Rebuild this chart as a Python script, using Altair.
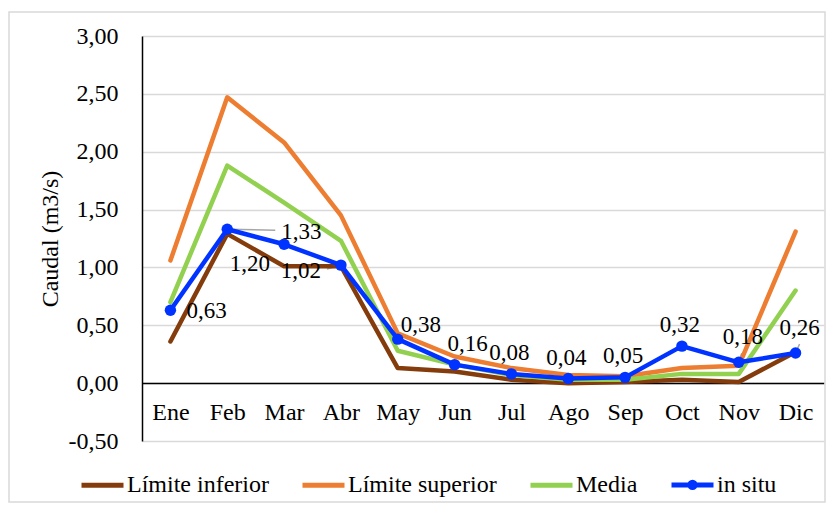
import altair as alt
import pandas as pd

months = ["Ene", "Feb", "Mar", "Abr", "May", "Jun", "Jul", "Ago", "Sep", "Oct", "Nov", "Dic"]
lim_inf = [0.36, 1.29, 1.01, 1.01, 0.13, 0.10, 0.03, 0.00, 0.01, 0.03, 0.01, 0.27]
lim_sup = [1.06, 2.47, 2.08, 1.45, 0.43, 0.23, 0.13, 0.07, 0.06, 0.13, 0.15, 1.31]
media = [0.70, 1.88, 1.56, 1.23, 0.28, 0.16, 0.07, 0.03, 0.03, 0.08, 0.08, 0.80]
in_situ = [0.63, 1.33, 1.20, 1.02, 0.38, 0.16, 0.08, 0.04, 0.05, 0.32, 0.18, 0.26]
series_names = ["Límite inferior", "Límite superior", "Media", "in situ"]
colors = ["#843C0C", "#ED7D31", "#92D050", "#0033FF"]
y_ticks = [-0.5, 0.0, 0.5, 1.0, 1.5, 2.0, 2.5, 3.0]

FONT = "'Liberation Serif', 'Times New Roman', Times, serif"

rows = []
for name, vals in zip(series_names, [lim_inf, lim_sup, media, in_situ]):
    for m, v in zip(months, vals):
        rows.append({"month": m, "serie": name, "value": v})
df = pd.DataFrame(rows)
df_in = pd.DataFrame({"month": months, "value": in_situ})

x_enc = alt.X(
    "month:N",
    sort=months,
    scale=alt.Scale(type="point", padding=0.5),
    axis=alt.Axis(
        title=None, labelAngle=0, ticks=False, grid=False,
        domainColor="black", domainWidth=1.5, offset=-58,
        labelPadding=17, labelFont=FONT, labelFontSize=24, labelColor="black",
    ),
)
y_enc = alt.Y(
    "value:Q",
    scale=alt.Scale(domain=[-0.5, 3.0], nice=False, zero=False),
    axis=alt.Axis(
        values=y_ticks, title="Caudal (m3/s)", ticks=False, grid=True,
        gridColor="#D9D9D9", gridWidth=1.5, domainColor="black", domainWidth=1.5,
        labelExpr="(datum.value < 0 ? '-' : '') + replace(format(abs(datum.value), '.2f'), '.', ',')",
        labelPadding=24, labelFont=FONT, labelFontSize=24, labelColor="black",
        titleFont=FONT, titleFontSize=24, titleFontWeight="normal", titleColor="black",
        titlePadding=6,
    ),
)

insitu_path = "M-1,0H1M0.13,0A0.13,0.13,0,1,1,-0.13,0A0.13,0.13,0,1,1,0.13,0"

lines = alt.Chart(df).mark_line(strokeWidth=4.5, strokeJoin="round", strokeCap="round").encode(
    x=x_enc,
    y=y_enc,
    color=alt.Color(
        "serie:N",
        scale=alt.Scale(domain=series_names, range=colors),
        legend=alt.Legend(
            title=None, orient="none", legendX=-63, legendY=425, direction="horizontal",
            columns=4, padding=0,
            symbolType=alt.ExprRef(expr="datum.value === 'in situ' ? '" + insitu_path + "' : 'stroke'"),
            symbolSize=1764, symbolStrokeWidth=5,
            labelFont=FONT, labelFontSize=24, labelColor="black", labelOffset=1,
            columnPadding=23, labelLimit=0,
        ),
    ),
)

base_in = alt.Chart(df_in).transform_calculate(
    label="replace(format(datum.value, '.2f'), '.', ',')"
)

points = base_in.mark_circle(size=130, color="#0033FF", opacity=1).encode(x=x_enc, y=y_enc)


def leader(month, dxo, dyo):
    return base_in.transform_filter(alt.datum.month == month).mark_rule(
        color="#A6A6A6", strokeWidth=1.5, x2Offset=dxo, y2Offset=dyo
    ).encode(x=x_enc, x2="month", y=y_enc, y2="value")


def lbl(sel, dx, dy, align):
    return base_in.transform_filter(
        alt.FieldOneOfPredicate(field="month", oneOf=sel)
    ).mark_text(
        dx=dx, dy=dy, align=align, baseline="middle", font=FONT, fontSize=23, color="black"
    ).encode(x=x_enc, y=y_enc, text="label:N")


frame = alt.Chart(pd.DataFrame({"a": [0]})).mark_rect(
    filled=False, stroke="#D9D9D9", strokeWidth=1.5
).encode(x=alt.value(-133), x2=alt.value(683), y=alt.value(-24), y2=alt.value(466))

leaders = [leader("Feb", 48, 1), leader("Abr", -14, 4), leader("Nov", 3, -9), leader("Dic", 4, -9)]
labels = [
    lbl(["Ene"], 16, 1, "left"),
    lbl(["Feb"], 54, 3, "left"),
    lbl(["Mar"], -14, 20, "right"),
    lbl(["Abr"], -20, 6, "right"),
    lbl(["May"], 23, -14, "center"),
    lbl(["Jun"], 13, -21, "center"),
    lbl(["Jul", "Ago", "Sep", "Oct"], -2, -21, "center"),
    lbl(["Nov", "Dic"], 4, -25, "center"),
]

chart = alt.layer(frame, *leaders, lines, points, *labels).properties(
    width=682,
    height=405,
    padding={"left": 134, "top": 28, "right": 2, "bottom": 62},
    autosize=alt.AutoSizeParams(type="none"),
).configure_view(stroke=None)

chart.save("out.html", embed_options={"renderer": "svg", "actions": False})
